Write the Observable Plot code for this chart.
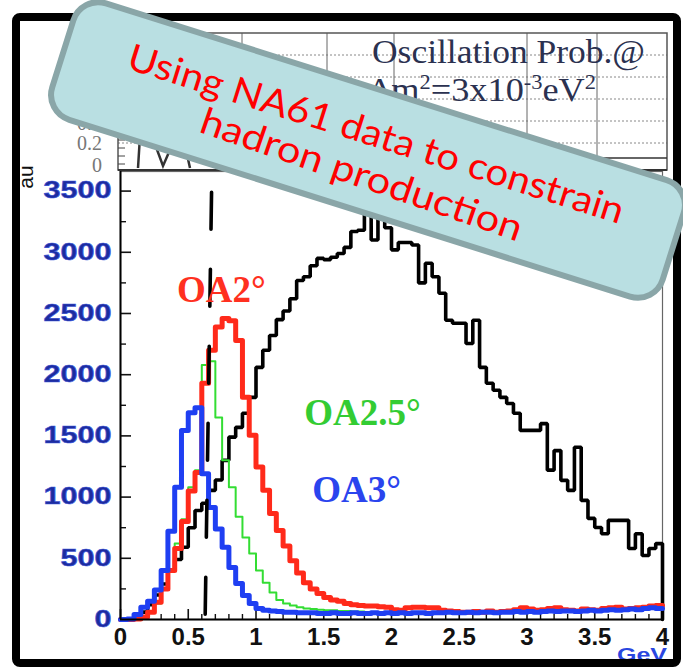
<!DOCTYPE html>
<html><head><meta charset="utf-8">
<script src="https://cdn.jsdelivr.net/npm/d3@7"></script>
<script src="https://cdn.jsdelivr.net/npm/@observablehq/plot@0.6"></script>
<style>
html,body{margin:0;padding:0;background:#fff;}
#chart{width:683px;height:670px;overflow:hidden;}
</style></head><body><div id="chart"></div>
<script>
// ---- data (bins of 0.05 GeV from 0 to 4 GeV) ----
const binWidth = 0.05;
const seriesNames = ["OA0°", "OA2°", "OA2.5°", "OA3°"];
const fluxBlack = [
  0, 5, 20, 60, 120, 200, 290, 400, 490, 590, 750, 890, 950, 1055, 1140, 1300, 1490, 1570, 1685, 1815,
  2060, 2200, 2320, 2450, 2520, 2620, 2770, 2800, 2890, 2950, 2940, 2960, 2990, 3040, 3170, 3180, 3380, 3100, 3400, 3200,
  3020, 3080, 3080, 3060, 2750, 2910, 2800, 2665, 2445, 2420, 2420, 2255, 2445, 2060, 1930, 1873, 1815, 1765, 1685, 1545,
  1545, 1545, 1600, 1220, 1380, 1137, 1055, 1407, 973, 826, 752, 700, 810, 810, 810, 580, 700, 523, 580, 620
];
const fluxOA2 = [
  0, 0, 5, 20, 60, 140, 250, 400, 580, 800, 1050, 1200, 1930, 2200, 2390, 2460, 2440, 2280, 1815, 1505,
  1245, 1055, 866, 728, 600, 480, 380, 300, 250, 212, 180, 160, 150, 130, 120, 115, 110, 110, 105, 100,
  80, 75, 95, 100, 100, 95, 95, 75, 70, 65, 60, 60, 65, 60, 70, 60, 65, 70, 80, 95,
  85, 75, 80, 90, 95, 80, 75, 70, 85, 80, 75, 90, 95, 100, 85, 90, 95, 100, 110, 115
];
const fluxOA25 = [
  0, 0, 5, 20, 60, 130, 250, 400, 620, 820, 1080, 1220, 2080, 2110, 1650, 1300, 1080, 840, 670, 540,
  400, 300, 220, 160, 130, 115, 100, 90, 85, 80, 75, 75, 70, 70, 65, 65, 60, 60, 60, 60,
  55, 55, 60, 55, 55, 60, 55, 55, 60, 60, 55, 55, 60, 60, 60, 65, 60, 60, 65, 65,
  65, 60, 65, 70, 65, 65, 70, 70, 65, 70, 70, 75, 70, 75, 75, 80, 75, 80, 85, 85
];
const fluxOA3 = [
  0, 5, 40, 100, 150, 240, 400, 720, 1080, 1545, 1690, 1730, 1190, 915, 740, 590, 425, 295, 196, 130,
  90, 75, 70, 65, 60, 60, 55, 55, 55, 50, 50, 55, 50, 50, 55, 50, 50, 55, 50, 55,
  50, 55, 50, 55, 55, 50, 55, 55, 60, 55, 55, 60, 55, 60, 60, 55, 60, 60, 65, 60,
  65, 60, 65, 70, 65, 70, 70, 65, 70, 75, 70, 75, 80, 75, 80, 85, 80, 90, 95, 90
];
const xTicks = [0, 0.5, 1, 1.5, 2, 2.5, 3, 3.5, 4];
const yTicks = [0, 500, 1000, 1500, 2000, 2500, 3000, 3500];
const yMinorTicks = [250, 750, 1250, 1750, 2250, 2750, 3250];
const xMinorTicks = d3.range(1, 40).map(i => i / 10).filter(v => Math.abs(v * 2 - Math.round(v * 2)) > 1e-6);
const labelTexts = ["OA2°", "OA2.5°", "OA3°"];
const labelX = [0.745, 1.786, 1.742];
const labelY = [2690, 1685, 1055];
const cutLine = [{x: 0.672, y: 3490}, {x: 0.625, y: 40}];

// ---- build step tables ----
function steps(values, name, dropToZero) {
  const pts = values.map((v, i) => ({series: name, x: i * binWidth, y: v}));
  pts.push({series: name, x: values.length * binWidth, y: values[values.length - 1]});
  if (dropToZero) pts.push({series: name, x: values.length * binWidth, y: 0});
  return pts;
}
const rowsBlack = steps(fluxBlack, seriesNames[0], true);
const rowsOA2 = steps(fluxOA2, seriesNames[1], false);
const rowsOA25 = steps(fluxOA25, seriesNames[2], false);
const rowsOA3 = steps(fluxOA3, seriesNames[3], false);
const labels = labelTexts.map((t, i) => ({text: t, x: labelX[i], y: labelY[i]}));

// ---- layout ----
const W = 683, H = 670, mL = 120, mR = 21, mT = 171, mB = 51;
const plotW = W - mL - mR, plotH = H - mT - mB;
const serif = "'Liberation Serif', 'Times New Roman', serif";

const plot = Plot.plot({
  width: W, height: H,
  marginLeft: mL, marginRight: mR, marginTop: mT, marginBottom: mB,
  x: {domain: [0, 4], label: null},
  y: {domain: [0, 3660], label: null},
  style: {background: "#fff", fontFamily: "'Liberation Sans', Arial, sans-serif"},
  marks: [
    Plot.frame({stroke: "#666", strokeWidth: 1.2}),
    Plot.tickX(xMinorTicks, {x: d => d, insetTop: plotH - 5, stroke: "#111", strokeWidth: 1.4}),
    Plot.tickX(xTicks, {x: d => d, insetTop: plotH - 10, stroke: "#111", strokeWidth: 1.6}),
    Plot.tickY(yMinorTicks, {y: d => d, insetRight: plotW - 6, stroke: "#111", strokeWidth: 1.4}),
    Plot.tickY(yTicks, {y: d => d, insetRight: plotW - 11, stroke: "#111", strokeWidth: 1.6}),
    Plot.line(rowsBlack, {x: "x", y: "y", curve: "step-after", stroke: "#000", strokeWidth: 3.6, strokeLinejoin: "miter"}),
    Plot.line(rowsOA25, {x: "x", y: "y", curve: "step-after", stroke: "#33dd33", strokeWidth: 2}),
    Plot.line(rowsOA2, {x: "x", y: "y", curve: "step-after", stroke: "#ff2a1a", strokeWidth: 5}),
    Plot.line(rowsOA3, {x: "x", y: "y", curve: "step-after", stroke: "#1f3ff2", strokeWidth: 5}),
    Plot.line(cutLine, {x: "x", y: "y", stroke: "#000", strokeWidth: 3.6, strokeDasharray: "37,40"}),
    Plot.text([labels[0]], {x: "x", y: "y", text: "text", fill: "#ff3020", fontSize: 37, fontWeight: "bold", fontFamily: serif}),
    Plot.text([labels[1]], {x: "x", y: "y", text: "text", fill: "#33cc33", fontSize: 37, fontWeight: "bold", fontFamily: serif}),
    Plot.text([labels[2]], {x: "x", y: "y", text: "text", fill: "#2a44ee", fontSize: 37, fontWeight: "bold", fontFamily: serif}),
    Plot.ruleX([0], {stroke: "#000", strokeWidth: 2}),
    Plot.ruleY([0], {stroke: "#000", strokeWidth: 2}),
    Plot.axisX({ticks: xTicks, tickSize: 0, tickPadding: 8, label: null, tickFormat: d => String(d), fontSize: 24, fontWeight: "bold", fill: "#111"}),
    Plot.axisY({ticks: yTicks, tickSize: 0, tickPadding: 9, label: null, tickFormat: d => String(d), fontSize: 23, fontWeight: "bold", fill: "#1d2c9e"})
  ]
});
document.getElementById("chart").appendChild(plot);

const svg = d3.select(plot);
// stretch y tick labels like the original
svg.selectAll('[aria-label="y-axis tick label"] text').each(function () {
  const t = d3.select(this);
  const n = t.text().length;
  t.attr("textLength", n * 17).attr("lengthAdjust", "spacingAndGlyphs")
   .attr("stroke", "#3a55d8").attr("stroke-width", 0.6);
});

// ---- upper (oscillation probability) panel, mostly hidden ----
const up = svg.append("g").attr("text-anchor", "start");
[55, 77, 99, 121, 143].forEach(yy => up.append("line")
  .attr("x1", 118).attr("x2", 667).attr("y1", yy).attr("y2", yy)
  .attr("stroke", "#888").attr("stroke-width", 1).attr("stroke-dasharray", "2,2"));
[242, 327, 394, 527, 597].forEach(xx => up.append("line")
  .attr("x1", xx).attr("x2", xx).attr("y1", 33).attr("y2", 170)
  .attr("stroke", "#666").attr("stroke-width", 1));
up.append("rect").attr("x", 118).attr("y", 33).attr("width", 549).attr("height", 137)
  .attr("fill", "none").attr("stroke", "#555").attr("stroke-width", 1.5);
up.append("line").attr("x1", 118).attr("x2", 667).attr("y1", 170).attr("y2", 170)
  .attr("stroke", "#333").attr("stroke-width", 2);
up.append("path").attr("d", "M540,158 L667,158").attr("stroke", "#333").attr("stroke-width", 1.5).attr("fill", "none");
up.append("path").attr("d", "M138,168 L140,136 M152,136 L163,166 L176,136 M186,150 L190,168")
  .attr("stroke", "#333").attr("stroke-width", 2.5).attr("fill", "none");
[140, 148, 156, 164].forEach(yy => up.append("line").attr("x1", 118).attr("x2", 125).attr("y1", yy).attr("y2", yy)
  .attr("stroke", "#444").attr("stroke-width", 1));
const upTxt = up.append("g").attr("font-family", serif).attr("fill", "#2b3150").attr("text-anchor", "start");
upTxt.append("text").attr("x", 372).attr("y", 63).attr("font-size", 33)
  .attr("textLength", 273).attr("lengthAdjust", "spacingAndGlyphs").text("Oscillation Prob.@");
const l2 = upTxt.append("text").attr("x", 368).attr("y", 101).attr("font-size", 34)
  .attr("textLength", 228).attr("lengthAdjust", "spacingAndGlyphs");
l2.append("tspan").text("Δm");
l2.append("tspan").attr("dy", -12).attr("font-size", 21).text("2");
l2.append("tspan").attr("dy", 12).text("=3x10");
l2.append("tspan").attr("dy", -12).attr("font-size", 21).text("-3");
l2.append("tspan").attr("dy", 12).text("eV");
l2.append("tspan").attr("dy", -12).attr("font-size", 21).text("2");
const upTick = up.append("g").attr("font-family", serif).attr("fill", "#777").attr("font-size", 20).attr("text-anchor", "end");
upTick.append("text").attr("x", 102).attr("y", 130).text("0.4");
upTick.append("text").attr("x", 102).attr("y", 150).text("0.2");
upTick.append("text").attr("x", 102).attr("y", 172).text("0");

// ---- axis decorations ----
svg.append("text").attr("transform", "translate(27,177) rotate(-90)")
  .attr("text-anchor", "middle").attr("dominant-baseline", "middle")
  .attr("font-family", "'Liberation Sans', Arial, sans-serif").attr("font-size", 21).attr("fill", "#111").text("au");
svg.append("text").attr("x", 617).attr("y", 661).attr("text-anchor", "start")
  .attr("font-family", "'Liberation Sans', Arial, sans-serif").attr("font-size", 19).attr("font-weight", "bold")
  .attr("fill", "#2a46e0").attr("textLength", 50).attr("lengthAdjust", "spacingAndGlyphs").text("GeV");

// ---- slide border ----
svg.append("rect").attr("x", 16).attr("y", 17).attr("width", 661).attr("height", 646).attr("rx", 4)
  .attr("fill", "none").attr("stroke", "#000").attr("stroke-width", 8);

// ---- rotated call-out box ----
const box = svg.append("g").attr("transform", "translate(368,150) rotate(17.5)");
box.append("rect").attr("x", -320).attr("y", -61).attr("width", 640).attr("height", 122).attr("rx", 26)
  .attr("fill", "#b9dfe2").attr("stroke", "#8aa6a8").attr("stroke-width", 6);
const bt = box.append("g").attr("font-family", "Lato, 'Open Sans', sans-serif").attr("fill", "#ff0000")
  .attr("font-size", 37).attr("text-anchor", "middle");
bt.append("text").attr("x", 3).attr("y", -5).attr("textLength", 518).attr("lengthAdjust", "spacingAndGlyphs").text("Using NA61 data to constrain");
bt.append("text").attr("x", 1).attr("y", 38).attr("transform", "rotate(1.5,1,38)")
  .attr("textLength", 338).attr("lengthAdjust", "spacingAndGlyphs").text("hadron production");
</script></body></html>
